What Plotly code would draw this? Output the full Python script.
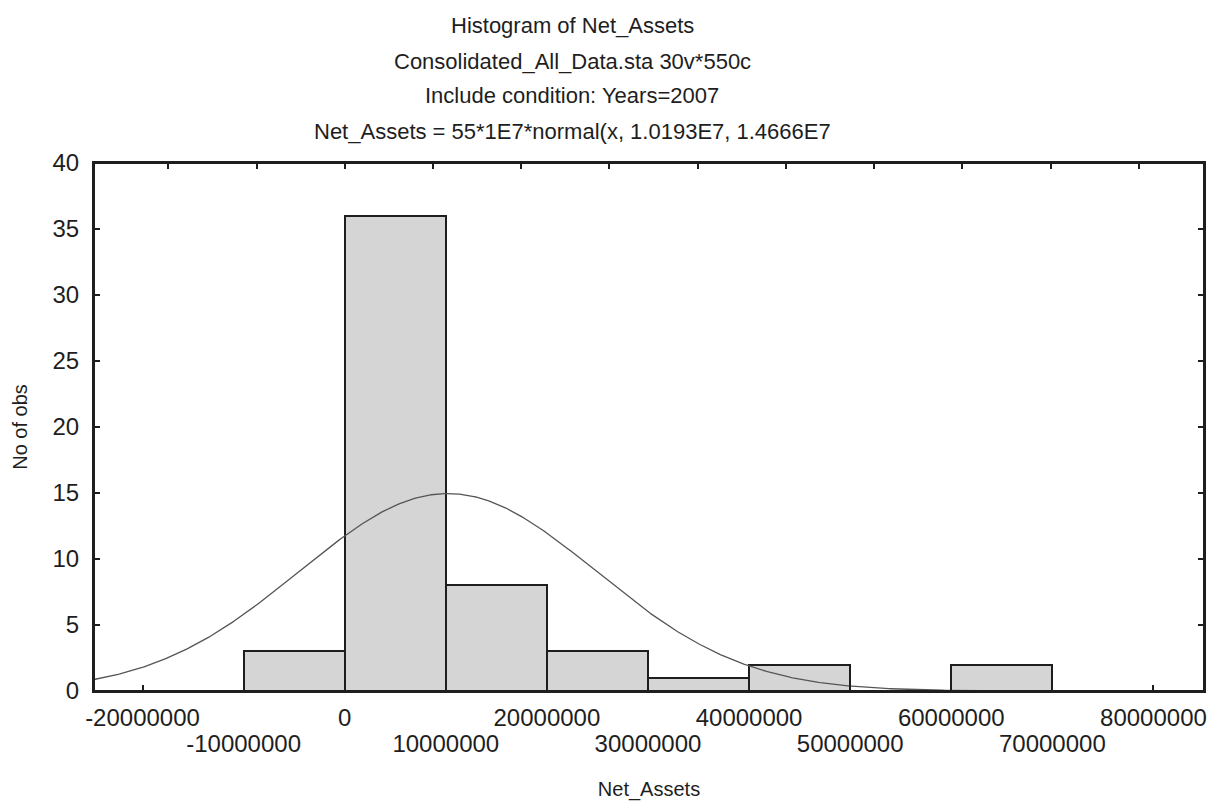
import numpy as np
import plotly.graph_objects as go

# Histogram bins (lower edge, upper edge) and counts of Net_Assets for 2007
bin_lower = [-10e6, 0, 10e6, 20e6, 30e6, 40e6, 50e6, 60e6]
bin_upper = [0, 10e6, 20e6, 30e6, 40e6, 50e6, 60e6, 70e6]
counts = [3, 36, 8, 3, 1, 2, 0, 2]

# Fitted normal curve: N * bin width * normal(x, mean, sd)
n_obs = 55
bin_width = 1e7
fit_mean = 1.0193e7
fit_sd = 1.4666e7

x_range = [-24.8e6, 85.0e6]

# Tick labels are staggered on two rows
x_ticks_upper = [-20e6, 0, 20e6, 40e6, 60e6, 80e6]
x_labels_upper = ["-20000000", "0", "20000000", "40000000", "60000000", "80000000"]
x_ticks_lower = [-10e6, 10e6, 30e6, 50e6, 70e6]
x_labels_lower = ["-10000000", "10000000", "30000000", "50000000", "70000000"]

title_lines = [
    "Histogram of Net_Assets",
    "Consolidated_All_Data.sta 30v*550c",
    "Include condition: Years=2007",
    "Net_Assets = 55*1E7*normal(x, 1.0193E7, 1.4666E7",
]

FONT = "Liberation Sans, Arial, sans-serif"
INK = "#1e1e1e"
TICK_SIZE = 24

centers = [(a + b) / 2 for a, b in zip(bin_lower, bin_upper)]
widths = [b - a for a, b in zip(bin_lower, bin_upper)]

xs = np.linspace(x_range[0], x_range[1], 600)
ys = n_obs * bin_width * np.exp(-0.5 * ((xs - fit_mean) / fit_sd) ** 2) / (fit_sd * np.sqrt(2 * np.pi))

fig = go.Figure()
fig.add_trace(go.Bar(
    x=centers, y=counts, width=widths,
    marker=dict(color="#d5d5d5", line=dict(color=INK, width=2)),
    showlegend=False, hoverinfo="skip",
))
fig.add_trace(go.Scatter(
    x=xs, y=ys, mode="lines",
    line=dict(color="#555555", width=1.3),
    showlegend=False, hoverinfo="skip",
))
# Empty traces that keep the overlay axes drawn
fig.add_trace(go.Scatter(x=[None], y=[None], xaxis="x2", showlegend=False, hoverinfo="skip"))
fig.add_trace(go.Scatter(x=[None], y=[None], xaxis="x3", showlegend=False, hoverinfo="skip"))

tick_style = dict(ticks="inside", ticklen=6, tickwidth=1.5, tickcolor=INK,
                  showgrid=False, zeroline=False, automargin=False)

fig.update_layout(
    width=1213, height=801,
    margin=dict(l=94, r=9, t=163, b=110),
    paper_bgcolor="white", plot_bgcolor="white",
    font=dict(family=FONT, color=INK, size=22),
    bargap=0,
    xaxis=dict(
        range=x_range, tickvals=x_ticks_upper, ticktext=x_labels_upper,
        tickangle=0, showline=True, linecolor=INK, linewidth=2, mirror=True,
        tickfont=dict(size=TICK_SIZE), ticklabelstandoff=4,
        title=dict(text="Net_Assets", font=dict(size=20), standoff=52),
        **tick_style,
    ),
    xaxis2=dict(
        overlaying="x", side="top", range=[0, 1],
        tick0=0.2259, dtick=0.0795,
        showticklabels=False, showline=False,
        **tick_style,
    ),
    xaxis3=dict(
        overlaying="x", side="bottom", anchor="y", range=x_range,
        tickvals=x_ticks_lower, ticktext=x_labels_lower, tickangle=0,
        tickfont=dict(size=TICK_SIZE), ticklabelstandoff=36, showline=False,
        **tick_style,
    ),
    yaxis=dict(
        range=[0, 40], dtick=5,
        showline=True, linecolor=INK, linewidth=2, mirror="ticks",
        tickfont=dict(size=TICK_SIZE), ticklabelstandoff=8,
        title=dict(text="No of obs", font=dict(size=20), standoff=19),
        **tick_style,
    ),
)

# Frame around the plotting area
fig.add_shape(type="rect", xref="paper", yref="paper", x0=0, x1=1, y0=0, y1=1,
              line=dict(color=INK, width=2), fillcolor="rgba(0,0,0,0)", layer="above")

title_y_px = [25, 61, 96, 131]
for text, ypx in zip(title_lines, title_y_px):
    fig.add_annotation(
        text=text, xref="paper", yref="paper",
        x=(572 - 94) / (1213 - 94 - 9), y=1 + (163 - ypx) / (801 - 163 - 110),
        xanchor="center", yanchor="middle", showarrow=False,
        font=dict(size=22, family=FONT, color=INK),
    )

fig.write_html("out.html")
